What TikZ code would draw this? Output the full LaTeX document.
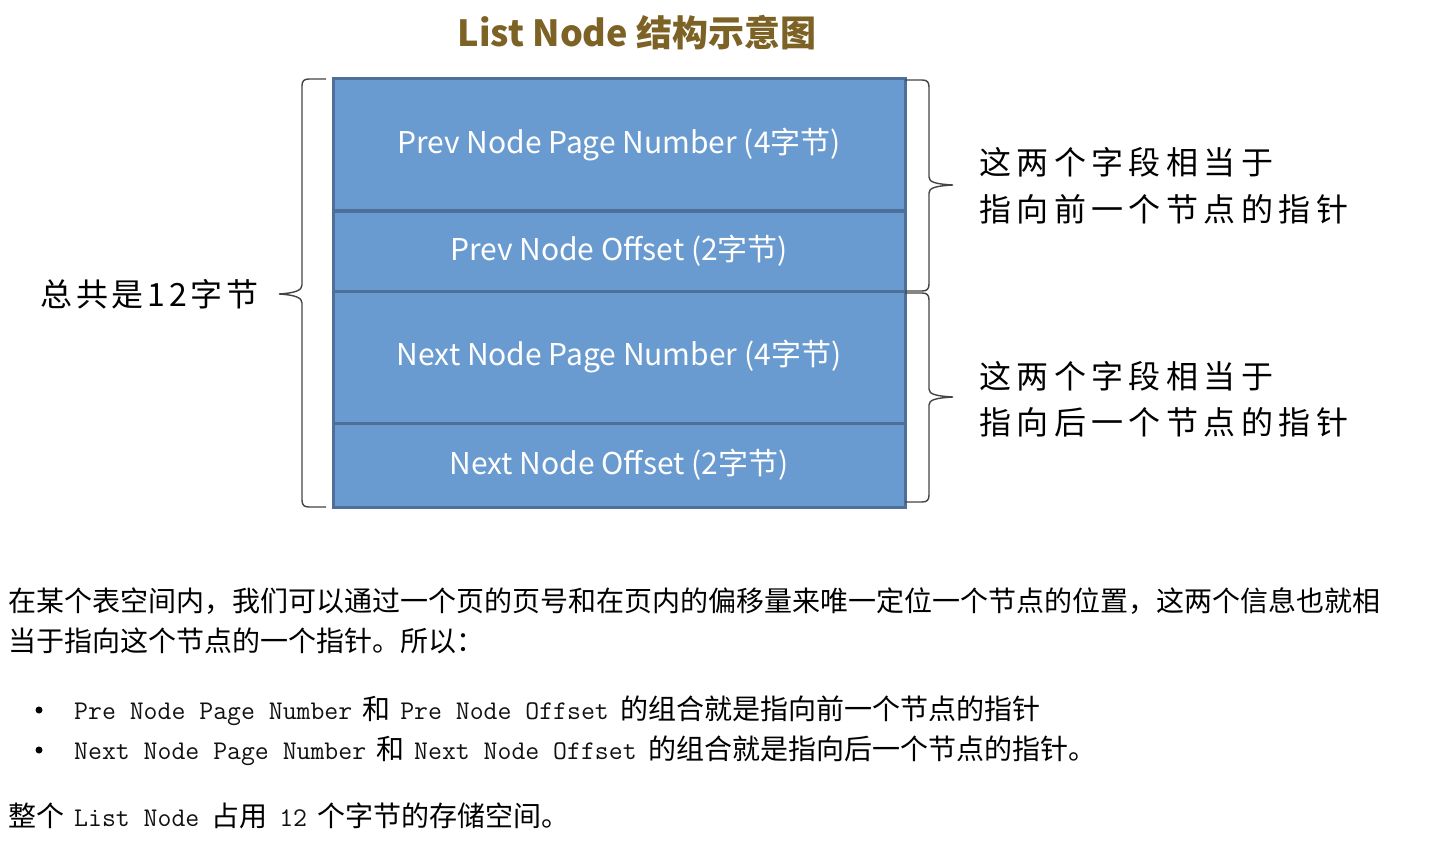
\documentclass[tikz,border=0pt]{standalone}
\usepackage{fontspec}
\setmainfont{Noto Sans CJK SC}
\newfontfamily\cjk{Noto Sans CJK SC}
\newfontfamily\kai[LetterSpace=17]{Noto Sans CJK SC}
\newfontfamily\kaitight[LetterSpace=12]{Noto Sans CJK SC}
\definecolor{boxfill}{HTML}{6A9BD0}
\definecolor{boxline}{HTML}{4E6F99}
\definecolor{titlecol}{HTML}{7D6225}
\definecolor{bracecol}{HTML}{444444}
\definecolor{monocol}{HTML}{111111}
\newcommand{\mymono}[1]{{\ttfamily\fontsize{27}{30}\selectfont\color{monocol}#1}}
\begin{document}
\begin{tikzpicture}[x=1pt,y=-1pt,
  field/.style={draw=boxline, line width=3pt, fill=boxfill, minimum width=572pt, inner sep=0pt,
    text=white, font=\fontsize{30}{34}\selectfont},
  bracestyle/.style={draw=bracecol, line width=1.4pt},
  side/.style={anchor=base west, inner sep=0pt, font=\kai\fontsize{32}{36}\selectfont, text=black},
  para/.style={anchor=base west, inner sep=0pt, font=\cjk\fontsize{28}{34}\selectfont, text=black},
  dot/.style={circle, fill=black, inner sep=0pt, minimum size=7pt}]
\fill[white] (0,0) rectangle (1436,848);
\useasboundingbox (0,0) rectangle (1436,848);

\node[font=\cjk\bfseries\fontsize{36}{40}\selectfont, text=titlecol] (title) at (637,33) {List Node 结构示意图};

\node[field, minimum height=132pt] (f1) at (619,145) {\raisebox{-2pt}{Prev Node Page Number (4字节)}};
\node[field, minimum height=80pt]  (f2) at (619,251) {\raisebox{-2pt}{Prev Node Offset (2字节)}};
\node[field, minimum height=132pt] (f3) at (619,357) {\raisebox{-2pt}{Next Node Page Number (4字节)}};
\node[field, minimum height=84pt]  (f4) at (619,465) {\raisebox{-2pt}{Next Node Offset (2字节)}};

% left brace
\draw[bracestyle] (326,79) -- (309,79) .. controls (304,79) and (302,81) .. (302,86)
  -- (302,285) .. controls (302,290) and (296,293) .. (279,294)
  .. controls (296,295) and (302,298) .. (302,303)
  -- (302,500) .. controls (302,505) and (304,507) .. (309,507) -- (326,507);
% right brace 1
\draw[bracestyle] (905,80) -- (922,80) .. controls (927,80) and (929,82) .. (929,87)
  -- (929,177) .. controls (929,182) and (935,184) .. (953,185)
  .. controls (935,186) and (929,188) .. (929,193)
  -- (929,284) .. controls (929,289) and (927,291) .. (922,291) -- (905,291);
% right brace 2
\draw[bracestyle] (905,293) -- (922,293) .. controls (927,293) and (929,295) .. (929,300)
  -- (929,389) .. controls (929,394) and (935,396) .. (953,397)
  .. controls (935,398) and (929,400) .. (929,405)
  -- (929,495) .. controls (929,500) and (927,502) .. (922,502) -- (905,502);

\node[side, font=\kaitight\fontsize{32}{36}\selectfont] (total) at (40,306) {总共是12字节};
\node[side] (p1) at (979,175) {这两个字段相当于};
\node[side] (p2) at (979,222) {指向前一个节点的指针};
\node[side] (n1) at (979,388) {这两个字段相当于};
\node[side] (n2) at (979,434) {指向后一个节点的指针};

\node[para] (l1) at (8,611) {在某个表空间内，我们可以通过一个页的页号和在页内的偏移量来唯一定位一个节点的位置，这两个信息也就相};
\node[para] (l2) at (8,651) {当于指向这个节点的一个指针。所以：};

\node[dot] (b1) at (39,710) {};
\node[dot] (b2) at (39,750) {};
\node[para] (i1) at (74,719) {\mymono{Pre Node Page Number}\hspace{10pt}和\hspace{10pt}\mymono{Pre Node Offset}\hspace{12pt}的组合就是指向前一个节点的指针};
\node[para] (i2) at (74,759) {\mymono{Next Node Page Number}\hspace{10pt}和\hspace{10pt}\mymono{Next Node Offset}\hspace{12pt}的组合就是指向后一个节点的指针。};
\node[para] (l3) at (8,826) {整个\hspace{10pt}\mymono{List Node}\hspace{12pt}占用\hspace{12pt}\mymono{12}\hspace{10pt}个字节的存储空间。};
\end{tikzpicture}
\end{document}
